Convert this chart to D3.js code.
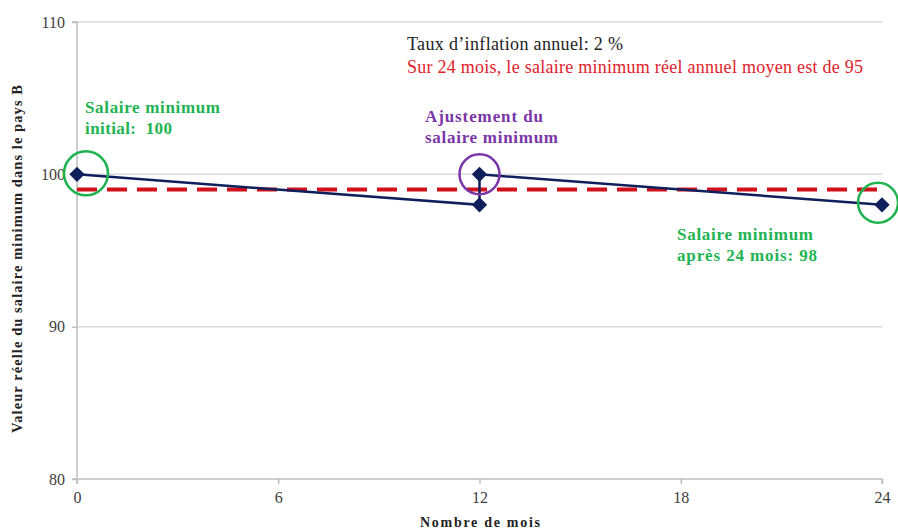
<!DOCTYPE html>
<html>
<meta charset=utf-8>
<head>
<script src="https://d3js.org/d3.v7.min.js"></script>
<style>
  body { margin: 0; background: #fff; }
  svg text, svg tspan { font-family: "Liberation Serif", "Times New Roman", serif; }
  .tick text { font-size: 16px; fill: #404040; }
</style>
</head>
<body>
<script>
// data
var months = [0, 12, 12, 24];
var salaire = [100, 98, 100, 98];
var moyenne = [99, 99];
var moyenneMois = [0, 24];
var xTicks = [0, 6, 12, 18, 24];
var yTicks = [80, 90, 100, 110];

var W = 898, H = 531;
var m = {left: 77, right: 16, top: 22, bottom: 52};
var serif = '"Liberation Serif", "Times New Roman", serif';

var svg = d3.select('body').append('svg')
  .attr('width', W).attr('height', H);

var x = d3.scaleLinear().domain([0, 24]).range([m.left, W - m.right]);
var y = d3.scaleLinear().domain([80, 110]).range([H - m.bottom, m.top]);

// gridlines
svg.append('g').selectAll('line').data(yTicks.slice(1)).enter().append('line')
  .attr('x1', x(0)).attr('x2', x(24))
  .attr('y1', function(d){ return y(d); }).attr('y2', function(d){ return y(d); })
  .attr('stroke', '#d9d9d9').attr('stroke-width', 1.5);

// axes
var yAxis = svg.append('g').attr('transform', 'translate(' + m.left + ',0)')
  .call(d3.axisLeft(y).tickValues(yTicks).tickSize(5).tickPadding(7));
var xAxis = svg.append('g').attr('transform', 'translate(0,' + y(80) + ')')
  .call(d3.axisBottom(x).tickValues(xTicks).tickSize(5).tickPadding(8));
svg.selectAll('.domain, .tick line').attr('stroke', '#bfbfbf').attr('stroke-width', 1.5);
xAxis.select('.domain').attr('d', 'M' + x(0) + ',5V0H' + x(24) + 'V5');
yAxis.select('.domain').attr('d', 'M-5,' + y(110) + 'H0V' + y(80) + 'H-5');

// dashed average line
svg.append('line')
  .attr('x1', x(moyenneMois[0])).attr('x2', x(moyenneMois[1]))
  .attr('y1', y(moyenne[0])).attr('y2', y(moyenne[1]))
  .attr('stroke', '#d0101a').attr('stroke-width', 4)
  .attr('stroke-dasharray', '20,10');

// series line
var pts = months.map(function(d, i){ return [d, salaire[i]]; });
svg.append('path').datum(pts)
  .attr('d', d3.line().x(function(d){ return x(d[0]); }).y(function(d){ return y(d[1]); }))
  .attr('fill', 'none').attr('stroke', '#0f1f5c').attr('stroke-width', 2.5);

svg.selectAll('.pt').data(pts).enter().append('path')
  .attr('class', 'pt')
  .attr('d', d3.symbol().type(d3.symbolDiamond2).size(150))
  .attr('transform', function(d){ return 'translate(' + x(d[0]) + ',' + y(d[1]) + ')'; })
  .attr('fill', '#0f1f5c');

// circles
var circ = [[0, 100, 9, -1, '#1db34e', 22], [12, 100, 0, 0, '#7a35a8', 20], [24, 98, -4, -2, '#1db34e', 20]];
svg.selectAll('.circ').data(circ).enter().append('circle')
  .attr('cx', function(d){ return x(d[0]) + d[2]; })
  .attr('cy', function(d){ return y(d[1]) + d[3]; })
  .attr('r', function(d){ return d[5]; })
  .attr('fill', 'none').attr('stroke', function(d){ return d[4]; }).attr('stroke-width', 2.5);

// annotations
function note(lines, widths, xx, yy, gap, color) {
  var t = svg.append('text').attr('x', xx).attr('y', yy)
    .attr('fill', color).attr('font-family', serif)
    .style('font-family', serif).style('font-size', '17px').style('font-weight', 'bold')
    .style('white-space', 'pre');
  lines.forEach(function(l, i){
    t.append('tspan').attr('x', xx).attr('dy', i ? gap : 0)
      .style('font-family', serif)
      .attr('textLength', widths[i]).attr('lengthAdjust', 'spacing').text(l);
  });
}
note(['Salaire minimum', 'initial:  100'], [135, 87], 85, 113, 21, '#22b352');
note(['Ajustement du', 'salaire minimum'], [118, 133], 425, 122, 21, '#7a35a8');
note(['Salaire minimum', 'après 24 mois: 98'], [136, 140], 677, 240, 21, '#22b352');
svg.append('text').attr('x', 407).attr('y', 50).style('font-size', '18px').attr('fill', '#222')
  .attr('textLength', 216).attr('lengthAdjust', 'spacing')
  .text('Taux d\u2019inflation annuel: 2 %');
svg.append('text').attr('x', 407).attr('y', 73).style('font-size', '18px').attr('fill', '#e0222b')
  .attr('textLength', 456).attr('lengthAdjust', 'spacing')
  .text('Sur 24 mois, le salaire minimum réel annuel moyen est de 95');

// axis titles
svg.append('text').attr('transform', 'translate(22,' + 259 + ') rotate(-90)')
  .attr('text-anchor', 'middle').style('font-size', '14.5px').style('font-weight', 'bold').attr('fill', '#222')
  .attr('textLength', 348).attr('lengthAdjust', 'spacing')
  .text('Valeur réelle du salaire minimum dans le pays B');
svg.append('text').attr('x', 480).attr('y', 527)
  .attr('text-anchor', 'middle').style('font-size', '14px').style('font-weight', 'bold').attr('fill', '#222')
  .attr('textLength', 120).attr('lengthAdjust', 'spacing')
  .text('Nombre de mois');
</script>
</body>
</html>
